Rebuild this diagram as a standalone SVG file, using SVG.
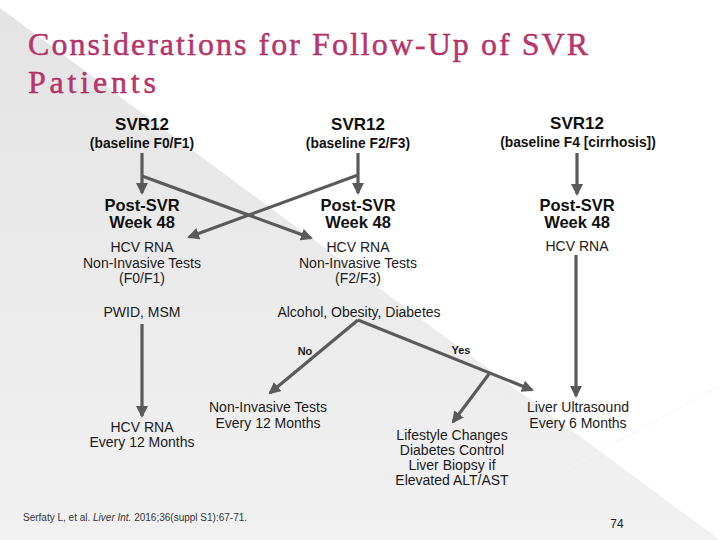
<svg xmlns="http://www.w3.org/2000/svg" width="720" height="540" viewBox="0 0 720 540">
  <defs>
    <linearGradient id="bgGray" x1="0" y1="0" x2="0" y2="1">
      <stop offset="0" stop-color="#e4e4e4"/>
      <stop offset="1" stop-color="#f1f1f1"/>
    </linearGradient>
    <marker id="arrow" viewBox="0 0 12 12" markerWidth="12" markerHeight="12" refX="10" refY="6" orient="auto" markerUnits="userSpaceOnUse">
      <path d="M0,0 L12,6 L0,12 z" fill="#5a5a5a"/>
    </marker>
    <style>
      .title { font-family: "Liberation Serif", "Times New Roman", serif; font-size: 32px; fill: #bf3470; stroke: #9c2353; stroke-width: 0.4px; }
      .hdr { font-family: "Liberation Sans", Arial, sans-serif; font-weight: bold; font-size: 17px; fill: #111; text-anchor: middle; }
      .sub { font-family: "Liberation Sans", Arial, sans-serif; font-weight: bold; font-size: 13.8px; fill: #111; text-anchor: middle; }
      .post { font-family: "Liberation Sans", Arial, sans-serif; font-weight: bold; font-size: 16.5px; fill: #111; text-anchor: middle; }
      .txt { font-family: "Liberation Sans", Arial, sans-serif; font-size: 14px; fill: #1a1a1a; text-anchor: middle; }
      .lbl { font-family: "Liberation Sans", Arial, sans-serif; font-weight: bold; font-size: 11px; fill: #1a1a1a; text-anchor: middle; }
      .cite { font-family: "Liberation Sans", Arial, sans-serif; font-size: 10px; fill: #333; }
      .pg { font-family: "Liberation Sans", Arial, sans-serif; font-size: 12px; fill: #222; text-anchor: middle; }
      .conn line { stroke: #5a5a5a; stroke-width: 3.2; fill: none; }
      .arr { marker-end: url(#arrow); }
    </style>
  </defs>

  <rect x="0" y="0" width="720" height="540" fill="#ffffff"/>
  <polygon points="0,8 720,540 0,540" fill="url(#bgGray)"/>
  <line x1="565" y1="470" x2="720" y2="386" stroke="#f4f4f4" stroke-width="1"/>

  <g id="title">
    <text class="title" x="28" y="55" textLength="560" lengthAdjust="spacing">Considerations for Follow-Up of SVR</text>
    <text class="title" x="28" y="93" textLength="128" lengthAdjust="spacing">Patients</text>
  </g>

  <g class="conn" id="connectors">
    <line class="arr" x1="142" y1="153" x2="142" y2="193"/>
    <line class="arr" x1="358" y1="153" x2="358" y2="193"/>
    <line class="arr" x1="577" y1="153" x2="577" y2="194"/>
    <line class="arr" x1="142" y1="176" x2="311" y2="238"/>
    <line class="arr" x1="358" y1="175" x2="189" y2="237"/>
    <line class="arr" x1="576" y1="255" x2="576" y2="396"/>
    <line class="arr" x1="142" y1="324" x2="142" y2="416"/>
    <line class="arr" x1="358" y1="320" x2="270" y2="393"/>
    <line class="arr" x1="358" y1="320" x2="532" y2="390"/>
    <line class="arr" x1="489" y1="374" x2="453" y2="422"/>
  </g>

  <g id="col1-svr12">
    <text class="hdr" x="142" y="130">SVR12</text>
    <text class="sub" x="142" y="148">(baseline F0/F1)</text>
  </g>
  <g id="col2-svr12">
    <text class="hdr" x="358" y="130">SVR12</text>
    <text class="sub" x="358" y="148">(baseline F2/F3)</text>
  </g>
  <g id="col3-svr12">
    <text class="hdr" x="577" y="129">SVR12</text>
    <text class="sub" x="578" y="147">(baseline F4 [cirrhosis])</text>
  </g>

  <g id="col1-post">
    <text class="post" x="142" y="211">Post-SVR</text>
    <text class="post" x="142" y="228">Week 48</text>
    <text class="txt" x="142" y="252">HCV RNA</text>
    <text class="txt" x="142" y="268">Non-Invasive Tests</text>
    <text class="txt" x="142" y="283">(F0/F1)</text>
  </g>
  <g id="col2-post">
    <text class="post" x="358" y="211">Post-SVR</text>
    <text class="post" x="358" y="228">Week 48</text>
    <text class="txt" x="358" y="252">HCV RNA</text>
    <text class="txt" x="358" y="268">Non-Invasive Tests</text>
    <text class="txt" x="358" y="283">(F2/F3)</text>
  </g>
  <g id="col3-post">
    <text class="post" x="577" y="211">Post-SVR</text>
    <text class="post" x="577" y="228">Week 48</text>
    <text class="txt" x="577" y="251">HCV RNA</text>
  </g>

  <g id="pwid">
    <text class="txt" x="142" y="317">PWID, MSM</text>
  </g>
  <g id="risk">
    <text class="txt" x="359" y="317">Alcohol, Obesity, Diabetes</text>
  </g>

  <g id="labels">
    <text class="lbl" x="305" y="355">No</text>
    <text class="lbl" x="461" y="354">Yes</text>
  </g>

  <g id="hcv-12">
    <text class="txt" x="142" y="432">HCV RNA</text>
    <text class="txt" x="142" y="447">Every 12 Months</text>
  </g>
  <g id="nit-12">
    <text class="txt" x="268" y="412">Non-Invasive Tests</text>
    <text class="txt" x="268" y="428">Every 12 Months</text>
  </g>
  <g id="lifestyle">
    <text class="txt" x="452" y="440">Lifestyle Changes</text>
    <text class="txt" x="452" y="455">Diabetes Control</text>
    <text class="txt" x="452" y="470">Liver Biopsy if</text>
    <text class="txt" x="452" y="485">Elevated ALT/AST</text>
  </g>
  <g id="ultrasound">
    <text class="txt" x="578" y="412">Liver Ultrasound</text>
    <text class="txt" x="578" y="428">Every 6 Months</text>
  </g>

  <g id="footer">
    <text class="cite" x="23" y="521">Serfaty L, et al. <tspan font-style="italic">Liver Int.</tspan> 2016;36(suppl S1):67-71.</text>
    <text class="pg" x="617" y="528">74</text>
  </g>
</svg>
